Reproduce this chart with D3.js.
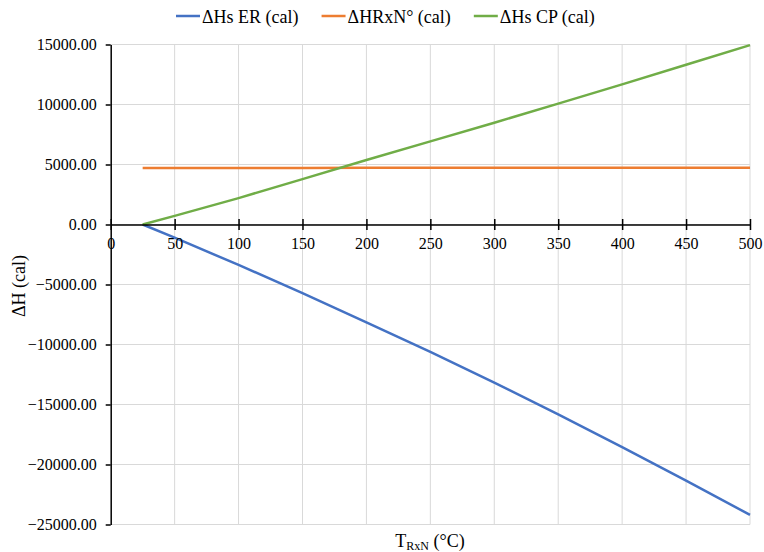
<!DOCTYPE html>
<html><head><meta charset="utf-8">
<script src="https://cdn.jsdelivr.net/npm/d3@7"></script>
<style>body{margin:0;background:#fff}svg{display:block}</style>
</head><body><svg id="c" width="764" height="552" font-family="Liberation Serif"></svg>
<script>
const temps = [25, 50, 100, 150, 200, 250, 300, 350, 400, 450, 500];
const hsER = [0, -1100, -3370, -5710, -8150, -10610, -13180, -15820, -18560, -21340, -24200];
const hRxN = [4700, 4705, 4712, 4718, 4722, 4727, 4730, 4733, 4735, 4737, 4738];
const hsCP = [0, 720, 2200, 3780, 5370, 6930, 8480, 10070, 11680, 13310, 14950];
const seriesNames = ["\u0394Hs ER (cal)", "\u0394HRxN\u00b0 (cal)", "\u0394Hs CP (cal)"];
const seriesColors = ["#4472C4", "#ED7D31", "#70AD47"];
const xTicks = [0, 50, 100, 150, 200, 250, 300, 350, 400, 450, 500];
const yTicks = [15000, 10000, 5000, 0, -5000, -10000, -15000, -20000, -25000];

const FONT = '"Liberation Serif"';
const svg = d3.select("#c");
const L = 110.7, R = 750, T = 44.5, B = 524.5;
const x = d3.scaleLinear().domain([0, 500]).range([L, R]);
const y = d3.scaleLinear().domain([-25000, 15000]).range([B, T]);

// gridlines
svg.append("g").selectAll("line").data(yTicks).join("line")
  .attr("x1", L).attr("x2", R).attr("y1", d => y(d)).attr("y2", d => y(d))
  .attr("stroke", "#d9d9d9").attr("stroke-width", 1);
svg.append("g").selectAll("line").data(xTicks.slice(1)).join("line")
  .attr("x1", d => x(d)).attr("x2", d => x(d)).attr("y1", T).attr("y2", B)
  .attr("stroke", "#d9d9d9").attr("stroke-width", 1);

// series
const all = [hsER, hRxN, hsCP];
const line = d3.line().x((d, i) => x(temps[i])).y(d => y(d));
all.forEach((s, k) => {
  svg.append("path").datum(s).attr("d", line).attr("fill", "none")
    .attr("stroke", seriesColors[k]).attr("stroke-width", 2.5).attr("stroke-linejoin", "round");
});

// x axis at y=0
const xAxis = d3.axisBottom(x).tickValues(xTicks).tickSize(5.5).tickSizeOuter(0).tickFormat(d3.format("d"));
const gx = svg.append("g").attr("transform", `translate(0,${y(0)})`).call(xAxis);
gx.attr("font-family", FONT).attr("font-size", 16);
gx.select(".domain").attr("stroke", "#000").attr("stroke-width", 1.5);
gx.selectAll(".tick line").attr("stroke", "#000").attr("stroke-width", 1.5).attr("y1", -5.5);
gx.selectAll(".tick text").attr("font-family", FONT).attr("font-size", 16).attr("fill", "#000").attr("dy", null).attr("y", 24.5);

// y axis
const yAxis = d3.axisLeft(y).tickValues(yTicks).tickSize(5).tickSizeOuter(0).tickPadding(9).tickFormat(d3.format(".2f"));
const gy = svg.append("g").attr("transform", `translate(${L},0)`).call(yAxis);
gy.attr("font-family", FONT).attr("font-size", 16);
gy.select(".domain").attr("stroke", "#000").attr("stroke-width", 1.5);
gy.selectAll(".tick line").attr("stroke", "#000").attr("stroke-width", 1.5);
gy.selectAll(".tick text").attr("font-family", FONT).attr("font-size", 16).attr("fill", "#000");

// axis titles
svg.append("text").attr("transform", "translate(25,286) rotate(-90)").attr("text-anchor", "middle")
  .attr("font-family", FONT).attr("font-size", 18).attr("fill", "#000").text("\u0394H (cal)");
const xt = svg.append("text").attr("x", 430).attr("y", 546.5).attr("text-anchor", "middle")
  .attr("font-family", FONT).attr("font-size", 18).attr("fill", "#000");
xt.append("tspan").text("T");
xt.append("tspan").attr("font-size", 12).attr("dy", 3).text("RxN");
xt.append("tspan").attr("dy", -3).text(" (\u00b0C)");

// legend
const lg = svg.append("g");
let cx = 176;
seriesNames.forEach((n, k) => {
  lg.append("line").attr("x1", cx).attr("x2", cx + 24).attr("y1", 16).attr("y2", 16)
    .attr("stroke", seriesColors[k]).attr("stroke-width", 2.5);
  const t = lg.append("text").attr("x", cx + 26).attr("y", 22.5)
    .attr("font-family", FONT).attr("font-size", 18).attr("fill", "#000").text(n);
  cx += 26 + t.node().getComputedTextLength() + 23;
});
</script></body></html>
